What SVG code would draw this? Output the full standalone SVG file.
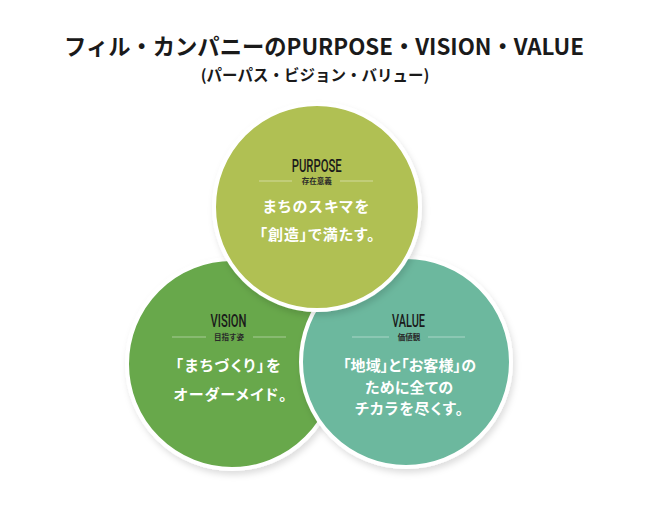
<svg xmlns="http://www.w3.org/2000/svg" width="650" height="508" viewBox="0 0 650 508">
<defs>
<filter id="sh" x="-20%" y="-20%" width="140%" height="140%">
<feDropShadow dx="2" dy="4" stdDeviation="3" flood-color="#000" flood-opacity="0.13"/>
</filter>
</defs>
<style>
.ttl{font-family:"Noto Sans CJK JP","Noto Sans",sans-serif;font-weight:700;fill:#1a1a1a;text-anchor:middle}
.lbl{font-family:Roboto,"Liberation Sans",sans-serif;font-weight:500;fill:#1a1a1a;text-anchor:middle;font-size:19px}
.sub{font-family:"Noto Sans CJK JP",sans-serif;font-weight:700;fill:#2a2a2a;text-anchor:middle;font-size:7.5px}
.msg{font-family:"Noto Sans CJK JP",sans-serif;font-weight:700;fill:#fff;text-anchor:middle;font-size:15px;font-feature-settings:"palt"}
.rule{stroke:#ffffff;stroke-opacity:0.55;stroke-width:0.8}
.c{stroke:#fff;stroke-width:4;filter:url(#sh)}
</style>
<rect width="650" height="508" fill="#fff"/>
<text class="ttl" x="324" y="55" font-size="22.3">フィル・カンパニーのPURPOSE・VISION・VALUE</text>
<text class="ttl" x="315" y="81" font-size="15.5">(パーパス・ビジョン・バリュー)</text>
<g id="connectors"/>
<g id="vision">
<circle class="c" cx="232" cy="364" r="105" fill="#68a84b"/>
<text class="lbl" x="228.5" y="327" textLength="36" lengthAdjust="spacingAndGlyphs">VISION</text>
<line class="rule" x1="172" y1="337" x2="206" y2="337"/>
<line class="rule" x1="253" y1="337" x2="286" y2="337"/>
<text class="sub" x="229" y="339.5">目指す姿</text>
<text class="msg" x="228" y="371" textLength="105" lengthAdjust="spacing">「まちづくり」を</text>
<text class="msg" x="230" y="400" textLength="113" lengthAdjust="spacing">オーダーメイド。</text>
</g>
<g id="value">
<circle class="c" cx="406" cy="362" r="105" fill="#6cb89e"/>
<text class="lbl" x="408.5" y="327" textLength="33" lengthAdjust="spacingAndGlyphs">VALUE</text>
<line class="rule" x1="352" y1="337" x2="389" y2="337"/>
<line class="rule" x1="428" y1="337" x2="465" y2="337"/>
<text class="sub" x="409" y="339.5">価値観</text>
<text class="msg" x="409.5" y="371" textLength="133" lengthAdjust="spacing">「地域」と「お客様」の</text>
<text class="msg" x="409" y="393" textLength="88" lengthAdjust="spacing">ために全ての</text>
<text class="msg" x="409" y="414" textLength="108" lengthAdjust="spacing">チカラを尽くす。</text>
</g>
<g id="purpose">
<circle class="c" cx="317" cy="207" r="103" fill="#b0c053"/>
<text class="lbl" x="316.7" y="171.5" textLength="50" lengthAdjust="spacingAndGlyphs">PURPOSE</text>
<line class="rule" x1="259" y1="181" x2="292" y2="181"/>
<line class="rule" x1="340" y1="181" x2="373" y2="181"/>
<text class="sub" x="316.7" y="184">存在意義</text>
<text class="msg" x="316" y="212" textLength="106" lengthAdjust="spacing">まちのスキマを</text>
<text class="msg" x="317" y="240" textLength="115" lengthAdjust="spacing">「創造」で満たす。</text>
</g>
</svg>
